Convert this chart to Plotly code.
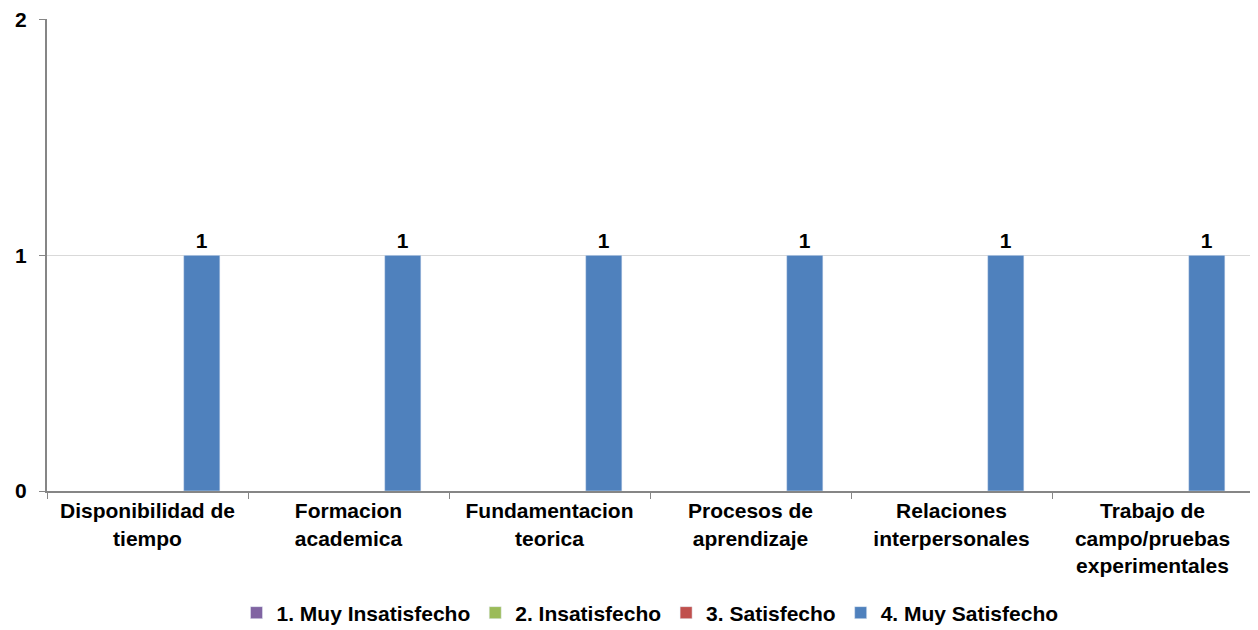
import plotly.graph_objects as go

categories = ["Disponibilidad de<br>tiempo", "Formacion<br>academica", "Fundamentacion<br>teorica",
              "Procesos de<br>aprendizaje", "Relaciones<br>interpersonales",
              "Trabajo de<br>campo/pruebas<br>experimentales"]
series_names = ["1. Muy Insatisfecho", "2. Insatisfecho", "3. Satisfecho", "4. Muy Satisfecho"]
series_values = [
    [None] * 6,
    [None] * 6,
    [None] * 6,
    [1, 1, 1, 1, 1, 1],
]
colors = ["#8064A2", "#9BBB59", "#C0504D", "#4F81BD"]

FS = 21
bold = dict(family="Liberation Sans", size=FS, color="black", weight="bold")

fig = go.Figure()
for name, vals, col in zip(series_names, series_values, colors):
    fig.add_trace(go.Bar(
        x=categories, y=vals, name=name, marker_color=col,
        text=[str(v) if v is not None else "" for v in vals],
        textposition="outside", cliponaxis=False,
        textfont=bold,
    ))

fig.update_layout(
    barmode="group", bargap=0.28, bargroupgap=0,
    width=1250, height=622,
    margin=dict(l=39, r=5, t=11, b=139, autoexpand=False),
    plot_bgcolor="white", paper_bgcolor="white",
    font=bold,
    showlegend=True,
    legend=dict(orientation="h", x=0.5, xanchor="center", y=-0.215, yanchor="top",
                font=bold, itemwidth=30, traceorder="normal"),
)
fig.update_xaxes(
    type="category", tickson="boundaries", ticks="outside", ticklen=6,
    tickcolor="#868686", showline=True, linecolor="#868686", linewidth=2,
    tickfont=bold, automargin=False,
)
fig.update_yaxes(
    range=[0, 2.003], tickvals=[0, 1, 2], ticks="outside", ticklen=6,
    tickcolor="#868686", showline=True, linecolor="#868686", linewidth=2,
    showgrid=True, gridcolor="#D9D9D9", gridwidth=1, zeroline=False,
    tickfont=bold, automargin=False, ticklabelstandoff=8,
    ticklabeloverflow="allow",
)
fig.write_html("out.html")
